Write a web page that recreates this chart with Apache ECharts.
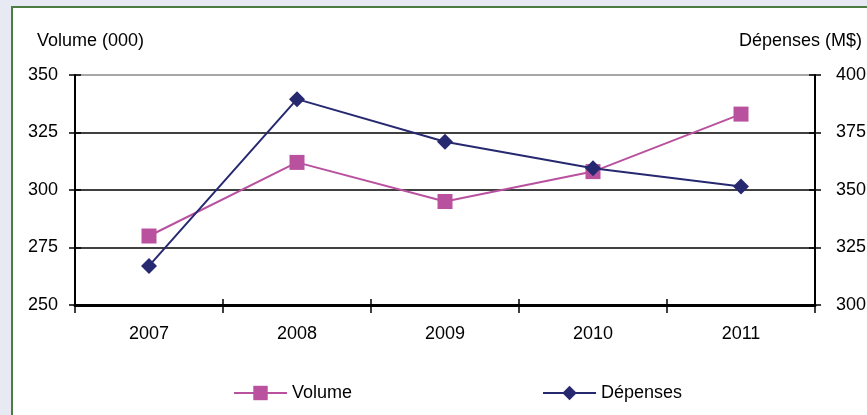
<!DOCTYPE html>
<html>
<head>
<meta charset="utf-8">
<script src="https://cdn.jsdelivr.net/npm/echarts@6/dist/echarts.min.js"></script>
<style>
  html, body { margin:0; padding:0; width:867px; height:415px; overflow:hidden; background:#e8eaf3; }
  #frame { position:absolute; left:11px; top:6px; width:900px; height:460px; background:#ffffff; border-left:2px solid #4a7c44; border-top:2px solid #4a7c44; }
  #chart { position:absolute; left:0; top:0; width:867px; height:415px; }
</style>
</head>
<body>
<div id="frame"></div>
<div id="chart"></div>
<script>
const years = ['2007', '2008', '2009', '2010', '2011'];
const volume = [280, 312, 295, 308, 333];
const depenses = [317, 389.5, 371, 359.5, 351.5];
const leftTicks = [250, 275, 300, 325, 350];
const rightTicks = [300, 325, 350, 375, 400];
const leftName = 'Volume (000)';
const rightName = 'Dépenses (M$)';

const FONT = '"Liberation Sans", Arial, sans-serif';
const FS = 18;
const chart = echarts.init(document.getElementById('chart'), null, { renderer: 'canvas' });

const yBase = (ticks, pos) => ({
  type: 'value', position: pos,
  min: ticks[0], max: ticks[ticks.length - 1], interval: ticks[1] - ticks[0]
});

chart.setOption({
  backgroundColor: 'transparent',
  animation: false,
  textStyle: { fontFamily: FONT },
  grid: { left: 75, right: 52, top: 75, bottom: 110, containLabel: false, outerBoundsMode: 'none' },
  graphic: [
    { type: 'text', left: 37, top: 32, style: { text: leftName, font: FS + 'px ' + FONT, fill: '#000' } },
    { type: 'text', right: 5, top: 32, style: { text: rightName, font: FS + 'px ' + FONT, fill: '#000' } }
  ],
  legend: {
    left: 228, top: 379,
    itemWidth: 53, itemHeight: 18, itemGap: 190,
    textStyle: { fontSize: FS, color: '#000', fontFamily: FONT },
    data: ['Volume', 'Dépenses']
  },
  xAxis: [
    {
      type: 'category', data: years, position: 'bottom', boundaryGap: true,
      axisLine: { lineStyle: { color: '#000', width: 3 } },
      axisTick: { show: true, inside: false, length: 8, lineStyle: { color: '#000', width: 1.5 } },
      axisLabel: { color: '#000', fontSize: FS, margin: 20, fontFamily: FONT },
      splitLine: { show: false }
    },
    {
      type: 'category', data: years, position: 'bottom', boundaryGap: true,
      axisLine: { show: false },
      axisTick: { show: true, inside: true, length: 6, lineStyle: { color: '#000', width: 1.5 } },
      axisLabel: { show: false },
      splitLine: { show: false }
    }
  ],
  yAxis: [
    Object.assign(yBase(leftTicks, 'left'), {
      axisLine: { show: true, lineStyle: { color: '#000', width: 2 } },
      axisTick: { show: true, inside: false, length: 6, lineStyle: { color: '#000', width: 1.5 } },
      axisLabel: { color: '#000', fontSize: FS, margin: 17, fontFamily: FONT },
      splitLine: { show: true, lineStyle: { color: ['#000', '#000', '#000', '#000', '#8a8a8a'], width: 1.5 } }
    }),
    Object.assign(yBase(rightTicks, 'right'), {
      axisLine: { show: true, lineStyle: { color: '#000', width: 2 } },
      axisTick: { show: true, inside: false, length: 6, lineStyle: { color: '#000', width: 1.5 } },
      axisLabel: { color: '#000', fontSize: FS, margin: 21, fontFamily: FONT },
      splitLine: { show: false }
    }),
    Object.assign(yBase(leftTicks, 'left'), {
      axisLine: { show: false },
      axisTick: { show: true, inside: true, length: 6, lineStyle: { color: '#000', width: 1.5 } },
      axisLabel: { show: false },
      splitLine: { show: false }
    }),
    Object.assign(yBase(rightTicks, 'right'), {
      axisLine: { show: false },
      axisTick: { show: true, inside: true, length: 6, lineStyle: { color: '#000', width: 1.5 } },
      axisLabel: { show: false },
      splitLine: { show: false }
    })
  ],
  series: [
    {
      name: 'Volume', type: 'line', data: volume, xAxisIndex: 0, yAxisIndex: 0,
      symbol: 'rect', symbolSize: 15, showAllSymbol: true,
      itemStyle: { color: '#b9519e' },
      lineStyle: { color: '#b9519e', width: 2 },
      z: 3
    },
    {
      name: 'Dépenses', type: 'line', data: depenses, xAxisIndex: 0, yAxisIndex: 1,
      symbol: 'diamond', symbolSize: 16, showAllSymbol: true,
      itemStyle: { color: '#262870' },
      lineStyle: { color: '#262870', width: 2 },
      z: 4
    }
  ]
});
</script>
</body>
</html>
